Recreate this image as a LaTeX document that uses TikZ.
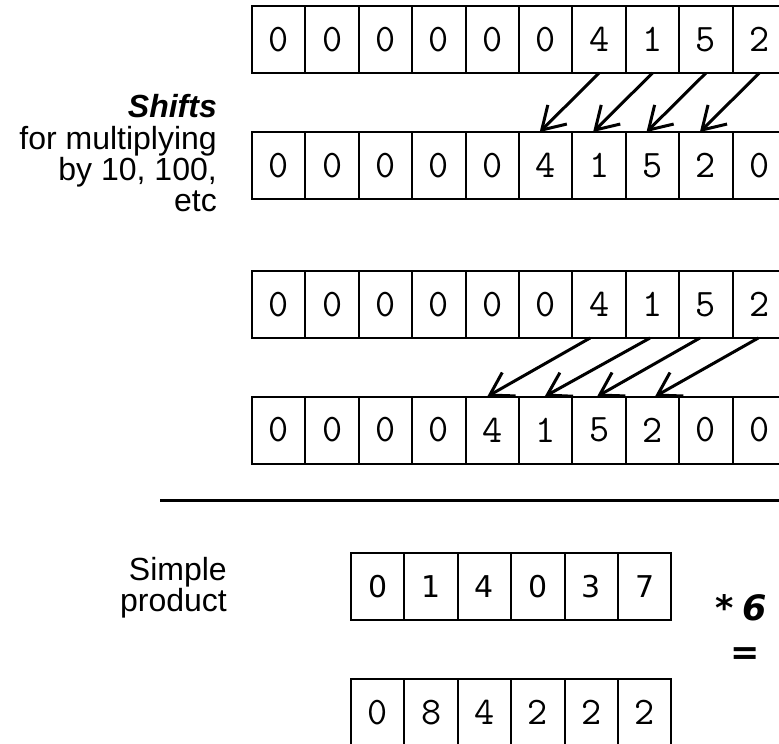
\documentclass[tikz,border=0pt]{standalone}
\usepackage{fontspec}
\setmainfont{Liberation Sans}
\newfontfamily\cellfontb{DejaVu Sans}
\newfontfamily\opfont{DejaVu Sans}
\usetikzlibrary{arrows.meta,positioning}
\tikzset{
  cell/.style={draw, line width=2pt, minimum width=53.4pt, minimum height=67pt,
    inner sep=0pt, outer sep=0pt, font=\ttfamily\fontsize{39}{39}\selectfont},
  cellb/.style={cell, font=\cellfontb\fontsize{30}{30}\selectfont},
  shiftarrow/.style={line width=3pt, -{Straight Barb[length=22pt,width=27pt]}},
  lbl/.style={anchor=base east, inner sep=0pt, font=\fontsize{32}{32}\selectfont},
}
\begin{document}
\begin{tikzpicture}[x=1pt,y=-1pt]
\path[use as bounding box, clip] (0,0) rectangle (779,744);
% rows of cells
\foreach \d [count=\i] in {0,0,0,0,0,0,4,1,5,2}
  \node[cell] (r1c\i) at ({252+(\i-0.5)*53.4},39.5) {\d};
\foreach \d [count=\i] in {0,0,0,0,0,4,1,5,2,0}
  \node[cell] (r2c\i) at ({252+(\i-0.5)*53.4},165.5) {\d};
\foreach \d [count=\i] in {0,0,0,0,0,0,4,1,5,2}
  \node[cell] (r3c\i) at ({252+(\i-0.5)*53.4},304.5) {\d};
\foreach \d [count=\i] in {0,0,0,0,4,1,5,2,0,0}
  \node[cell] (r4c\i) at ({252+(\i-0.5)*53.4},430) {\d};
\foreach \d [count=\i] in {0,1,4,0,3,7}
  \node[cellb] (r5c\i) at ({351+(\i-0.5)*53.4},586.5) {\d};
\foreach \d [count=\i] in {0,8,4,2,2,2}
  \node[cell] (r6c\i) at ({351+(\i-0.5)*53.4},712.5) {\d};
% shift by one
\draw[shiftarrow] (r1c7.south) -- ([xshift=-6pt]r2c6.north);
\draw[shiftarrow] (r1c8.south) -- ([xshift=-6pt]r2c7.north);
\draw[shiftarrow] (r1c9.south) -- ([xshift=-6pt]r2c8.north);
\draw[shiftarrow] (r1c10.south) -- ([xshift=-6pt]r2c9.north);
% shift by two
\draw[shiftarrow] ([xshift=-9pt]r3c7.south) -- ([xshift=-5pt]r4c5.north);
\draw[shiftarrow] ([xshift=-2.5pt]r3c8.south) -- ([xshift=-1pt]r4c6.north);
\draw[shiftarrow] ([xshift=-6pt]r3c9.south) -- ([xshift=-2pt]r4c7.north);
\draw[shiftarrow] ([xshift=-1pt]r3c10.south) -- ([xshift=2.5pt]r4c8.north);
% labels
\node[lbl, font=\bfseries\itshape\fontsize{32}{32}\selectfont] (t1) at (217,117) {Shifts};
\node[lbl] (t2) at (217,149) {for multiplying};
\node[lbl] (t3) at (217,180) {by 10, 100,};
\node[lbl] (t4) at (217,211) {etc};
% separator
\draw[line width=3pt] (160,500.7) -- (779,500.7);
% simple product
\node[lbl] (s1) at (227,580) {Simple};
\node[lbl] (s2) at (227,611) {product};
\node[anchor=base west, inner sep=0pt, font=\opfont\bfseries\itshape\fontsize{35}{35}\selectfont] (op) at (715,620) {*\hspace{9pt}6};
\node[inner sep=0pt, font=\opfont\bfseries\itshape\fontsize{35}{35}\selectfont] (eq) at (745,656) {=};
\end{tikzpicture}
\end{document}
